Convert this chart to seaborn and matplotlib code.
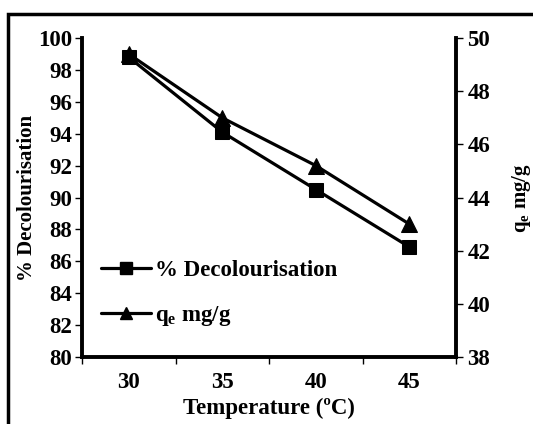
import numpy as np
import pandas as pd
import seaborn as sns
import matplotlib.pyplot as plt
from matplotlib.lines import Line2D
from matplotlib.patches import Rectangle

# dados
temperaturas = ["30", "35", "40", "45"]
decolourisation = [98.8, 94.1, 90.5, 86.9]
qe = [49.4, 47.0, 45.2, 43.0]

df = pd.DataFrame({
    "pos": np.arange(len(temperaturas)),
    "dec": decolourisation,
    "qe": qe,
})

sns.set_style("white")
plt.rcParams["font.family"] = ["Liberation Serif", "DejaVu Serif"]
plt.rcParams["font.weight"] = "bold"
plt.rcParams["text.color"] = "black"
plt.rcParams["axes.labelcolor"] = "black"
plt.rcParams["xtick.color"] = "black"
plt.rcParams["ytick.color"] = "black"
plt.rcParams["mathtext.fontset"] = "custom"
plt.rcParams["mathtext.rm"] = "Liberation Serif:bold"
plt.rcParams["mathtext.bf"] = "Liberation Serif:bold"

fig = plt.figure(figsize=(5.33, 4.24), dpi=100)
ax = fig.add_axes([0.154, 0.158, 0.702, 0.752])
ax2 = ax.twinx()

sns.lineplot(data=df, x="pos", y="dec", ax=ax, color="black", lw=2.3,
             marker="s", markersize=10, markeredgecolor="black")
sns.lineplot(data=df, x="pos", y="qe", ax=ax2, color="black", lw=2.3,
             marker="^", markersize=11, markeredgecolor="black")

# eixo esquerdo
ax.set_ylim(80, 100)
ax.set_yticks(range(80, 101, 2))
ax.set_xlim(-0.5, 3.5)
ax.set_xticks(np.arange(-0.5, 3.6, 1))
ax.set_xticklabels([])
ax.set_xticks(df["pos"], minor=True)
ax.set_xticklabels(temperaturas, minor=True)
ax.tick_params(axis="x", which="minor", length=0, pad=11, labelsize=16.5)
ax.tick_params(axis="x", which="major", direction="out", length=5, width=1, bottom=True)
ax.tick_params(axis="y", direction="out", length=5, width=1, left=True, labelsize=16.5, pad=2)
ax.set_xlabel("Temperature (ºC)", fontsize=16.5, fontweight="bold", labelpad=3)
ax.set_ylabel("% Decolourisation", fontsize=15, fontweight="bold", labelpad=1)

# eixo direito
ax2.set_ylim(38, 50)
ax2.set_yticks(range(38, 51, 2))
ax2.tick_params(axis="y", direction="out", length=5, width=1, right=True, labelsize=16.5, pad=3)
ax2.set_ylabel(r"q$_{\mathbf{e}}$ mg/g", fontsize=15, fontweight="bold", rotation=90, labelpad=14)

for a in (ax, ax2):
    for s in a.spines.values():
        s.set_visible(False)
ax.spines["left"].set_visible(True)
ax.spines["bottom"].set_visible(True)
ax2.spines["right"].set_visible(True)
for s in (ax.spines["left"], ax.spines["bottom"], ax2.spines["right"]):
    s.set_linewidth(2.8)
    s.set_color("black")

for lab in ax.get_yticklabels() + ax2.get_yticklabels() + ax.get_xticklabels(minor=True):
    lab.set_fontweight("bold")

handles = [
    Line2D([], [], color="black", lw=2.3, marker="s", markersize=9),
    Line2D([], [], color="black", lw=2.3, marker="^", markersize=9),
]
ax.legend(handles, ["% Decolourisation", r"q$_{\mathbf{e}}$ mg/g"], loc="lower left",
          bbox_to_anchor=(-0.005, 0.025), frameon=False, handlelength=2.2,
          handletextpad=0.15, labelspacing=1.0, prop={"size": 16.5, "weight": "bold"})

# moldura externa
fig.patches.append(Rectangle((8 / 533, -0.1), 1.2, 1 - 14 / 424 + 0.1,
                             transform=fig.transFigure, fill=False,
                             lw=2.5, edgecolor="black"))

fig.savefig("out.png", dpi=100)
